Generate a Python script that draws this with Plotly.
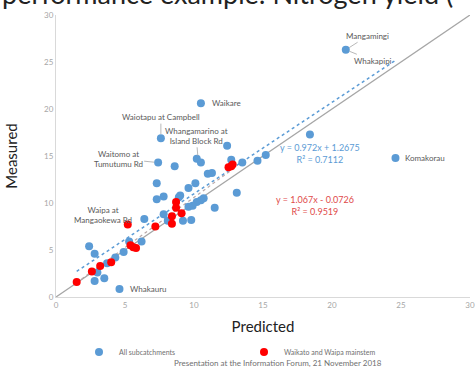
import plotly.graph_objects as go

# ---- data ----
blue_x = [21.0, 10.5, 7.6, 12.4, 18.4, 24.6, 15.2, 14.6, 13.5, 12.7, 7.4, 8.6, 10.2, 10.5,
          11.0, 11.3, 13.1, 7.3, 10.1, 9.6, 7.8, 7.3, 9.0, 8.9, 10.7, 10.5, 10.2, 9.9, 9.6,
          11.5, 7.8, 8.1, 9.2, 9.8, 6.4, 6.2, 5.3, 4.9, 4.3, 3.7, 2.4, 2.8, 3.0, 3.5, 2.8, 4.6]
blue_y = [26.3, 20.6, 16.9, 16.1, 17.3, 14.8, 15.1, 14.5, 14.3, 14.6, 14.3, 13.9, 14.7, 14.3,
          13.1, 13.2, 11.1, 12.1, 12.1, 11.6, 10.7, 10.4, 10.8, 10.6, 10.5, 10.3, 10.1, 9.7, 9.6,
          9.5, 8.8, 8.1, 8.1, 8.2, 8.3, 5.9, 5.9, 4.8, 4.2, 3.6, 5.4, 4.6, 2.6, 2.0, 1.7, 0.85]
red_x = [1.5, 2.6, 3.2, 4.0, 5.2, 5.4, 5.6, 5.8, 7.2, 8.4, 8.4, 8.7, 8.7, 9.1, 12.5, 12.7, 12.8]
red_y = [1.6, 2.7, 3.3, 3.7, 7.7, 5.5, 5.3, 5.2, 7.5, 8.6, 7.8, 10.1, 9.5, 8.9, 13.8, 13.9, 14.1]

blue_slope, blue_icpt = 0.972, 1.2675
red_slope, red_icpt = 1.067, -0.0726
blue_fit_x = [1.5, 24.6]
red_fit_x = [1.5, 12.8]
one_to_one = [0, 30]

x_ticks = [0, 5, 10, 15, 20, 25, 30]
y_ticks = [0, 5, 10, 15, 20, 25, 30]

BLUE = "#5B9BD5"
RED = "#FF0000"
LABEL = "#595959"
FONT = "Lato"

PW, PH, L, T = 414, 282, 56, 15   # plot-area size in px, for placing paper-ref texts

def px(xp):
    return (xp - L) / PW

def py(yp):
    return (T + PH - yp) / PH

fig = go.Figure()

fig.add_trace(go.Scatter(x=one_to_one, y=one_to_one, mode="lines",
                         line=dict(color="#a6a6a6", width=1.3), showlegend=False, hoverinfo="skip"))
fig.add_trace(go.Scatter(x=blue_fit_x, y=[blue_slope * v + blue_icpt for v in blue_fit_x], mode="lines",
                         line=dict(color=BLUE, width=1.5, dash="dot"), showlegend=False, hoverinfo="skip"))
fig.add_trace(go.Scatter(x=red_fit_x, y=[red_slope * v + red_icpt for v in red_fit_x], mode="lines",
                         line=dict(color="#b9a9a9", width=1.2, dash="dot"), showlegend=False, hoverinfo="skip"))

fig.add_trace(go.Scatter(x=blue_x, y=blue_y, mode="markers", name="All subcatchments",
                         marker=dict(color=BLUE, size=8)))
fig.add_trace(go.Scatter(x=red_x, y=red_y, mode="markers", name="Waikato and Waipa mainstem",
                         marker=dict(color=RED, size=8)))

ann = []
def label(x, y, text, ax=0, ay=0, arrow=False, xshift=0, yshift=0, xanchor="center"):
    d = dict(x=x, y=y, xref="x", yref="y", text=text, font=dict(family=FONT, size=8, color=LABEL),
             align="center", xanchor=xanchor, yanchor="middle", xshift=xshift, yshift=yshift)
    if arrow:
        d.update(showarrow=True, arrowhead=0, arrowwidth=0.8, arrowcolor="#a6a6a6",
                 ax=ax, ay=ay, standoff=4)
    else:
        d.update(showarrow=False)
    ann.append(d)

label(21.0, 26.3, "Mangamingi", ax=22, ay=-14, arrow=True)
label(21.0, 26.3, "Whakapipi", ax=27, ay=11, arrow=True)
label(10.5, 20.6, "Waikare", xshift=9, xanchor="left")
label(7.6, 16.9, "Waiotapu at Campbell", ax=0, ay=-21, arrow=True)
label(10.3, 14.6, "Whangamarino at<br>Island Block Rd", ax=-2, ay=-24, arrow=True)
label(7.4, 14.3, "Waitomo at<br>Tumutumu Rd", ax=-40, ay=-4, arrow=True)
label(24.6, 14.8, "Komakorau", xshift=8, xanchor="left")
label(5.2, 7.7, "Waipa at<br>Mangaokewa Rd", xshift=-25, yshift=10)
label(4.6, 0.85, "Whakauru", xshift=9, xanchor="left")

ann.append(dict(x=px(320), y=py(153), xref="paper", yref="paper", xanchor="center", yanchor="middle",
                text="y = 0.972x + 1.2675<br>R² = 0.7112", showarrow=False,
                font=dict(family=FONT, size=9, color=BLUE), align="center"))
ann.append(dict(x=px(315), y=py(206), xref="paper", yref="paper", xanchor="center", yanchor="middle",
                text="y = 1.067x - 0.0726<br>R² = 0.9519", showarrow=False,
                font=dict(family=FONT, size=9, color="#E04a4a"), align="center"))

# title (cut at top)
ann.append(dict(x=px(0), y=py(-6), xref="paper", yref="paper", xanchor="left", yanchor="middle",
                text="performance example: Nitrogen yield (", showarrow=False,
                font=dict(family=FONT, size=27, color="#222222")))
# footer
ann.append(dict(x=px(278), y=py(363), xref="paper", yref="paper", xanchor="center", yanchor="middle",
                text="Presentation at the Information Forum, 21 November 2018", showarrow=False,
                font=dict(family=FONT, size=8, color="#707070")))

fig.update_layout(
    width=475, height=368,
    margin=dict(l=L, r=5, t=T, b=368 - T - PH, autoexpand=False),
    paper_bgcolor="white", plot_bgcolor="white",
    font=dict(family=FONT),
    annotations=ann,
    showlegend=True,
    legend=dict(orientation="h", x=px(79), y=py(352), xanchor="left", yanchor="middle",
                font=dict(family=FONT, size=7, color="#707070"), itemwidth=30, tracegroupgap=0,
                entrywidthmode="pixels", entrywidth=120),
    xaxis=dict(range=[0, 30], tickvals=x_ticks, showgrid=False, zeroline=False,
               showline=True, linecolor="#d9d9d9", linewidth=1,
               tickfont=dict(family=FONT, size=8, color="#a6a6a6"), ticks="",
               title=dict(text="Predicted", font=dict(family=FONT, size=15, color="#222222"), standoff=12)),
    yaxis=dict(range=[0, 30], tickvals=y_ticks, showgrid=False, zeroline=False,
               showline=True, linecolor="#d9d9d9", linewidth=1,
               tickfont=dict(family=FONT, size=8, color="#a6a6a6"), ticks="",
               title=dict(text="Measured", font=dict(family=FONT, size=15, color="#222222"), standoff=22)),
)

fig.write_html("out.html", config={"displayModeBar": False},
               post_script="document.body.style.margin='0';document.body.style.overflow='hidden';")
